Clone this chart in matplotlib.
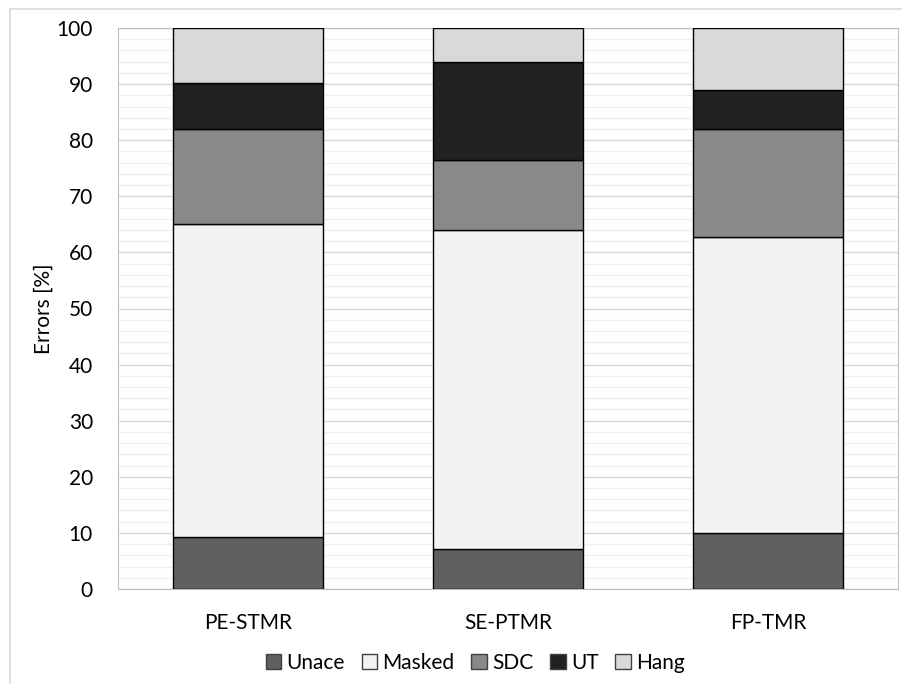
import numpy as np
import matplotlib.pyplot as plt
from matplotlib.patches import Rectangle
from matplotlib.ticker import MultipleLocator

plt.rcParams['font.family'] = ['Lato', 'DejaVu Sans']

categories = ['PE-STMR', 'SE-PTMR', 'FP-TMR']
unace = [9.3, 7.2, 10.0]
masked = [55.7, 56.8, 52.8]
sdc = [17.0, 12.5, 19.2]
ut = [8.2, 17.5, 7.0]
hang = [9.8, 6.0, 11.0]

series = [('Unace', unace, '#606060'),
          ('Masked', masked, '#f2f2f2'),
          ('SDC', sdc, '#898989'),
          ('UT', ut, '#212121'),
          ('Hang', hang, '#d9d9d9')]

fig = plt.figure(figsize=(9.03, 6.84), dpi=100)
# outer chart frame
fig.patches.append(Rectangle((10/903, -0.05), 1.0, 1 - 9/684 + 0.05,
                             transform=fig.transFigure, fill=False,
                             edgecolor='#d9d9d9', lw=1.2))
ax = fig.add_axes([118/903, 1 - 589/684, 780/903, 561/684])

x = np.arange(len(categories))
bottom = np.zeros(len(categories))
for name, vals, col in series:
    ax.bar(x, vals, 0.575, bottom=bottom, color=col, edgecolor='black',
           lw=1.0, label=name, zorder=3)
    bottom += np.array(vals)

ax.set_xlim(-0.5, 2.5)
ax.set_ylim(0, 100)
ax.yaxis.set_major_locator(MultipleLocator(10))
ax.yaxis.set_minor_locator(MultipleLocator(2))
ax.grid(axis='y', which='major', color='#d9d9d9', lw=1.0, zorder=0)
ax.grid(axis='y', which='minor', color='#f0f0f0', lw=1.0, zorder=0)
ax.set_xticks(x)
ax.set_xticklabels(categories)
ax.tick_params(axis='both', which='both', length=0, labelsize=15, colors='black')
ax.tick_params(axis='x', pad=17)
ax.tick_params(axis='y', pad=18)
for s in ax.spines.values():
    s.set_color('#bfbfbf')
ax.set_ylabel('Errors [%]', fontsize=15, labelpad=2)

leg = ax.legend(loc='upper center', bbox_to_anchor=(0.458, -0.08), ncol=5,
                frameon=False, fontsize=15, handlelength=0.75, handleheight=0.75,
                handletextpad=0.25, columnspacing=0.8)
for h in leg.legend_handles:
    h.set_edgecolor('#404040')

fig.savefig('out.png', dpi=100)
